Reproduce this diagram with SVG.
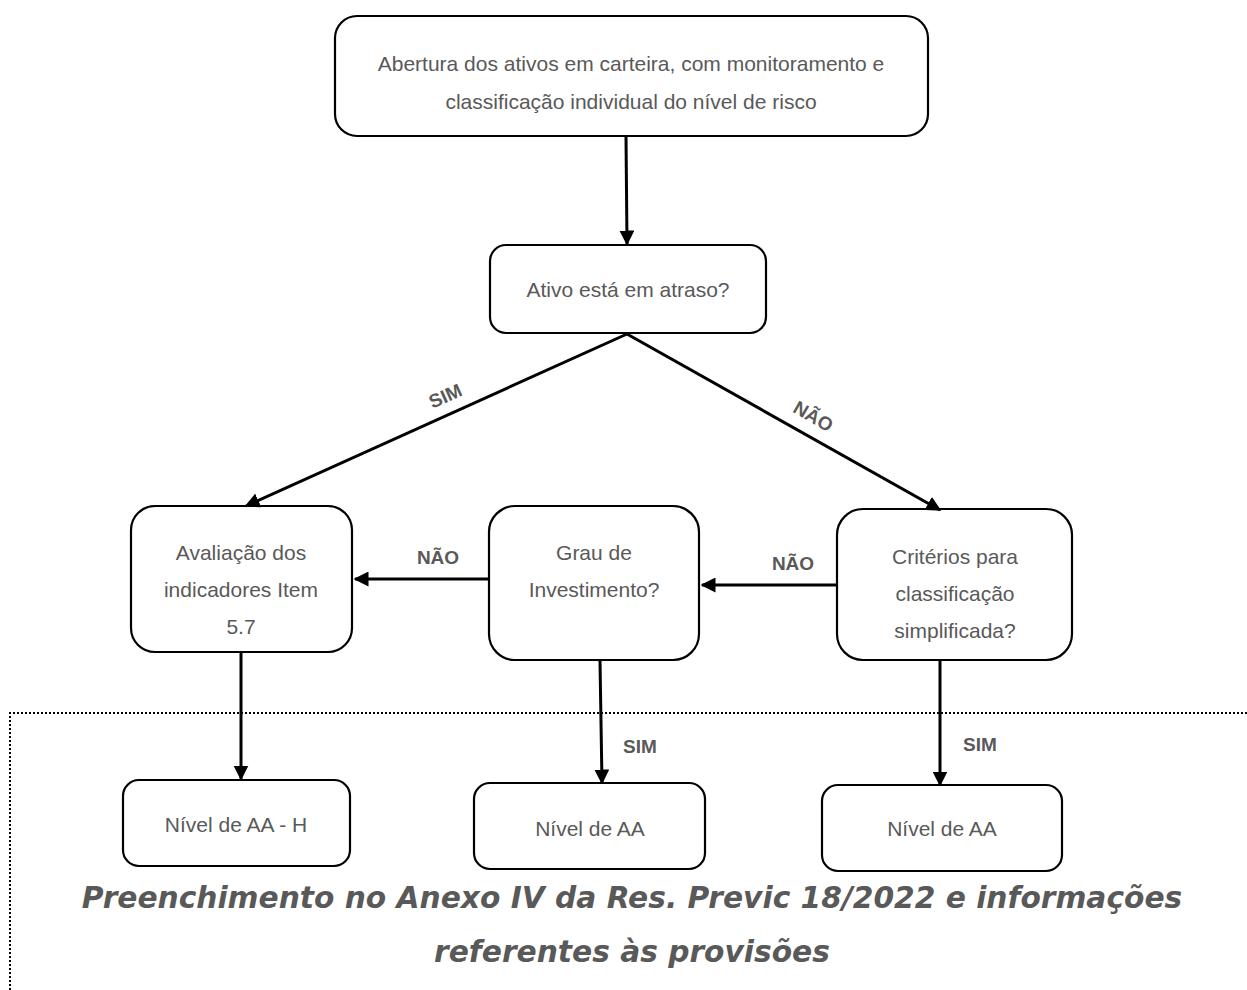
<svg xmlns="http://www.w3.org/2000/svg" width="1247" height="990" viewBox="0 0 1247 990">
<style>
.box{fill:#fff;stroke:#000;stroke-width:2.2}
.t{font-family:"Liberation Sans",Arial,sans-serif;font-size:21px;fill:#595959;text-anchor:middle}
.lbl{font-family:"Liberation Sans",Arial,sans-serif;font-size:19px;font-weight:bold;fill:#595959;text-anchor:middle}
.big{font-family:"DejaVu Sans",Verdana,sans-serif;font-size:29.7px;font-weight:bold;font-style:italic;fill:#595959;text-anchor:middle}
.ln{stroke:#000;stroke-width:3;fill:none;marker-end:url(#ah)}
</style>
<defs>
<marker id="ah" viewBox="0 0 10 10" refX="9" refY="5" markerWidth="5" markerHeight="5" orient="auto" markerUnits="strokeWidth">
<path d="M0,0 L10,5 L0,10 z" fill="#000"/>
</marker>
</defs>
<rect width="1247" height="990" fill="#fff"/>
<path d="M10,990 L10,713 L1247,713" fill="none" stroke="#000" stroke-width="2" stroke-dasharray="2,2"/>
<g id="n1">
<rect class="box" x="335" y="16" width="593" height="120" rx="22"/>
<text class="t" x="631" y="71">Abertura dos ativos em carteira, com monitoramento e</text>
<text class="t" x="631" y="109">classificação individual do nível de risco</text>
</g>
<g id="n2">
<rect class="box" x="490" y="245" width="276" height="88" rx="16"/>
<text class="t" x="628" y="297">Ativo está em atraso?</text>
</g>
<g id="n3">
<rect class="box" x="131" y="506" width="221" height="146" rx="24"/>
<text class="t" x="241" y="560">Avaliação dos</text>
<text class="t" x="241" y="597">indicadores Item</text>
<text class="t" x="241" y="634">5.7</text>
</g>
<g id="n4">
<rect class="box" x="489" y="506" width="210" height="154" rx="26"/>
<text class="t" x="594" y="560">Grau de</text>
<text class="t" x="594" y="597">Investimento?</text>
</g>
<g id="n5">
<rect class="box" x="837" y="509" width="235" height="151" rx="26"/>
<text class="t" x="955" y="564">Critérios para</text>
<text class="t" x="955" y="601">classificação</text>
<text class="t" x="955" y="638">simplificada?</text>
</g>
<g id="n6">
<rect class="box" x="123" y="780" width="227" height="86" rx="16"/>
<text class="t" x="236" y="832">Nível de AA - H</text>
</g>
<g id="n7">
<rect class="box" x="474" y="783" width="231" height="86" rx="16"/>
<text class="t" x="590" y="836">Nível de AA</text>
</g>
<g id="n8">
<rect class="box" x="822" y="785" width="240" height="86" rx="16"/>
<text class="t" x="942" y="836">Nível de AA</text>
</g>
<g id="connectors">
<line class="ln" x1="626" y1="137" x2="627" y2="244"/>
<line class="ln" x1="627" y1="334" x2="246" y2="506"/>
<line class="ln" x1="627" y1="334" x2="940" y2="510"/>
<line class="ln" x1="489" y1="579" x2="355" y2="579"/>
<line class="ln" x1="837" y1="585" x2="702" y2="585"/>
<line class="ln" x1="241" y1="653" x2="241" y2="779"/>
<line class="ln" x1="600" y1="661" x2="602" y2="783"/>
<line class="ln" x1="940" y1="661" x2="940" y2="785"/>
<text class="lbl" transform="translate(448,402) rotate(-24)">SIM</text>
<text class="lbl" transform="translate(810,422) rotate(30)">NÃO</text>
<text class="lbl" x="438" y="564">NÃO</text>
<text class="lbl" x="793" y="570">NÃO</text>
<text class="lbl" x="640" y="753">SIM</text>
<text class="lbl" x="980" y="751">SIM</text>
</g>
<g id="caption">
<text class="big" x="632" y="908">Preenchimento no Anexo IV da Res. Previc 18/2022 e informações</text>
<text class="big" x="632" y="962">referentes às provisões</text>
</g>
</svg>
